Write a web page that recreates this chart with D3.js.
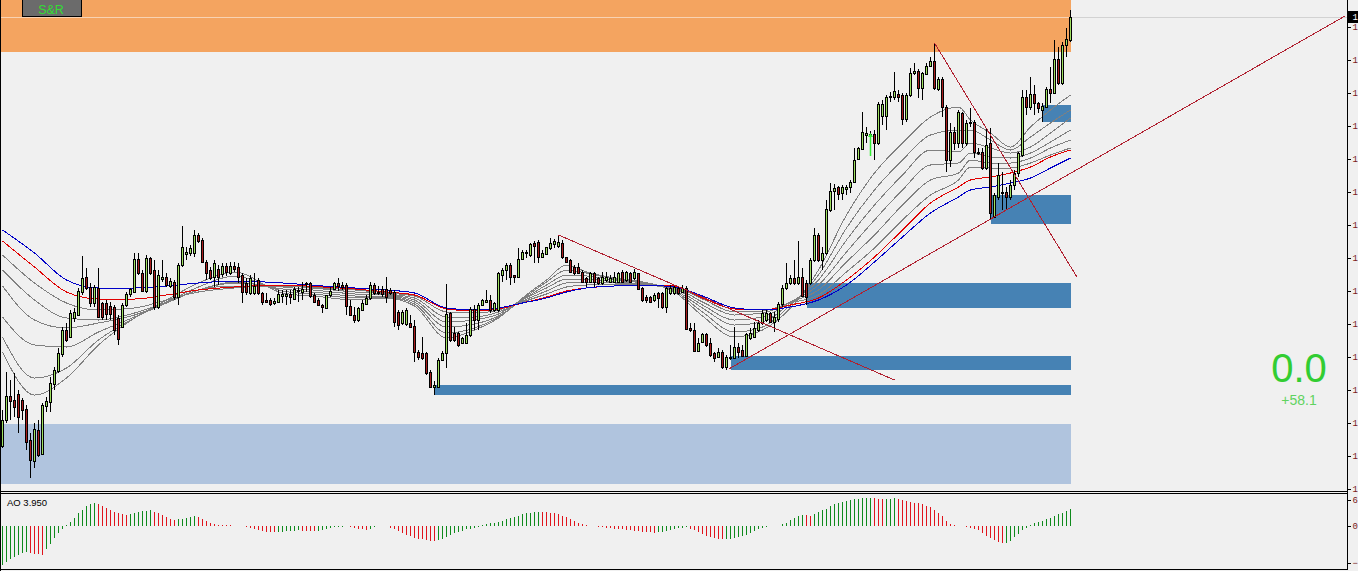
<!DOCTYPE html>
<html>
<head>
<meta charset="utf-8">
<script src="https://cdn.jsdelivr.net/npm/d3@7"></script>
<style>
  body { margin: 0; background: #f0f0f0; overflow: hidden; }
  svg { display: block; }
</style>
</head>
<body>
<div id="chart"></div>
<script>
// ---- candles (one per bar, left to right) ----
const open = [
1054,1080,1104,1100,1106,1100,1091,1060,1039,1070,
1046,1094,1098,1116,1129,1146,1170,1163,1182,1185,
1208,1223,1213,1197,1212,1197,1197,1194,1193,1182,
1173,1195,1206,1208,1241,1227,1209,1242,1230,1193,
1221,1223,1214,1218,1203,1235,1246,1247,1247,1265,
1260,1238,1230,1223,1231,1226,1234,1227,1234,1233,
1225,1217,1207,1207,1220,1207,1200,1200,1197,1198,
1204,1204,1206,1201,1210,1208,1216,1217,1205,1200,
1195,1192,1205,1211,1217,1215,1215,1194,1185,1180,
1190,1196,1202,1215,1208,1211,1211,1210,1208,1188,
1177,1176,1177,1174,1148,1147,1147,1128,1113,1113,
1140,1147,1187,1167,1167,1157,1157,1165,1191,1180,
1195,1198,1200,1190,1190,1225,1230,1235,1225,1223,
1241,1247,1245,1257,1258,1243,1246,1252,1256,1254,
1257,1243,1240,1233,1233,1228,1222,1218,1227,1222,
1217,1220,1218,1218,1218,1228,1220,1227,1222,1227,
1212,1203,1203,1200,1207,1207,1193,1207,1207,1212,
1208,1212,1172,1170,1149,1158,1166,1157,1147,1143,
1148,1133,1142,1142,1153,1150,1144,1162,1163,1170,
1177,1180,1187,1178,1181,1196,1212,1217,1222,1217,
1223,1217,1217,1240,1265,1240,1247,1290,1309,1313,
1307,1311,1313,1318,1341,1351,1365,1364,1366,1357,
1384,1384,1403,1403,1406,1405,1381,1405,1427,1429,
1412,1426,1434,1439,1411,1421,1393,1340,1368,1357,
1387,1357,1378,1378,1348,1348,1332,1357,1283,1303,
1307,1308,1303,1315,1327,1345,1403,1393,1406,1397,
1390,1393,1411,1407,1441,1417,1455,1460
];
const high = [
1090,1128,1120,1127,1110,1102,1095,1067,1077,1080,
1097,1103,1123,1133,1152,1173,1177,1190,1192,1212,
1244,1232,1217,1215,1232,1198,1200,1198,1195,1185,
1197,1208,1212,1247,1247,1230,1245,1243,1240,1230,
1240,1227,1222,1220,1237,1274,1253,1255,1270,1267,
1262,1240,1233,1240,1235,1237,1237,1238,1238,1237,
1227,1222,1225,1227,1222,1208,1207,1202,1202,1210,
1210,1210,1210,1213,1213,1218,1218,1218,1207,1202,
1196,1205,1213,1218,1222,1218,1217,1200,1193,1193,
1200,1205,1218,1217,1214,1214,1223,1212,1210,1190,
1190,1192,1185,1180,1150,1163,1148,1130,1119,1142,
1149,1216,1188,1173,1168,1163,1177,1193,1195,1197,
1201,1210,1205,1198,1228,1232,1237,1237,1225,1252,
1250,1250,1257,1259,1260,1250,1253,1262,1261,1265,
1260,1243,1241,1235,1237,1230,1223,1228,1228,1223,
1228,1228,1225,1228,1228,1230,1229,1228,1231,1227,
1213,1205,1204,1207,1208,1208,1213,1215,1215,1214,
1215,1214,1177,1177,1162,1167,1167,1162,1148,1152,
1150,1145,1155,1173,1157,1155,1167,1172,1178,1180,
1190,1190,1188,1188,1198,1215,1237,1225,1240,1259,
1232,1220,1242,1272,1267,1253,1300,1317,1316,1314,
1315,1315,1320,1352,1353,1388,1373,1369,1370,1398,
1400,1405,1408,1428,1410,1407,1407,1432,1437,1431,
1428,1437,1443,1457,1423,1423,1395,1377,1373,1390,
1388,1380,1392,1380,1352,1352,1372,1372,1307,1337,
1328,1313,1320,1330,1348,1410,1410,1423,1415,1398,
1397,1413,1433,1460,1453,1458,1472,1490
];
const low = [
1052,1077,1080,1083,1067,1080,1050,1022,1032,1043,
1045,1088,1088,1110,1127,1143,1158,1162,1178,1185,
1205,1210,1193,1193,1182,1180,1180,1180,1165,1155,
1172,1193,1203,1207,1225,1208,1207,1225,1190,1191,
1218,1213,1212,1200,1195,1233,1240,1244,1243,1257,
1237,1220,1220,1213,1215,1223,1224,1225,1228,1217,
1197,1205,1205,1205,1205,1195,1197,1194,1195,1197,
1197,1195,1196,1200,1198,1200,1208,1202,1197,1195,
1187,1191,1203,1210,1209,1210,1185,1184,1177,1178,
1189,1195,1200,1205,1205,1203,1197,1205,1173,1170,
1175,1174,1172,1138,1140,1140,1125,1112,1105,1112,
1139,1132,1158,1158,1153,1156,1156,1163,1170,1170,
1194,1197,1187,1188,1188,1218,1220,1215,1217,1223,
1240,1242,1243,1237,1237,1242,1245,1250,1252,1252,
1241,1237,1227,1225,1227,1217,1213,1217,1213,1215,
1215,1218,1217,1217,1217,1217,1218,1217,1220,1210,
1198,1197,1197,1198,1192,1191,1187,1205,1205,1205,
1207,1170,1168,1148,1148,1157,1153,1143,1138,1142,
1131,1130,1140,1142,1142,1143,1143,1160,1162,1168,
1175,1178,1177,1168,1178,1193,1210,1215,1215,1215,
1203,1195,1215,1238,1238,1230,1245,1288,1290,1300,
1300,1305,1307,1317,1340,1350,1357,1360,1340,1355,
1375,1370,1398,1400,1398,1375,1378,1403,1425,1402,
1400,1425,1433,1410,1409,1383,1328,1333,1350,1352,
1352,1354,1373,1342,1345,1330,1330,1280,1282,1300,
1290,1290,1300,1310,1323,1343,1385,1390,1385,1387,
1378,1392,1397,1407,1415,1415,1443,1458
];
const close = [
1080,1104,1099,1093,1083,1090,1058,1040,1071,1045,
1095,1099,1117,1130,1147,1170,1160,1187,1188,1209,
1222,1212,1197,1213,1183,1183,1186,1186,1170,1161,
1195,1206,1211,1241,1227,1209,1242,1227,1193,1225,
1223,1215,1219,1203,1235,1253,1248,1252,1265,1259,
1238,1227,1222,1237,1223,1234,1228,1234,1231,1223,
1208,1208,1222,1214,1207,1198,1198,1196,1199,1206,
1206,1206,1203,1211,1209,1211,1217,1204,1198,1195,
1193,1205,1209,1217,1214,1213,1194,1185,1180,1192,
1197,1202,1215,1207,1207,1206,1203,1207,1178,1175,
1188,1190,1173,1148,1143,1142,1127,1113,1115,1140,
1147,1186,1160,1160,1155,1162,1165,1191,1180,1195,
1200,1200,1190,1197,1227,1230,1235,1223,1223,1241,
1248,1248,1256,1254,1243,1247,1253,1257,1259,1258,
1243,1238,1228,1227,1227,1218,1218,1227,1218,1217,
1223,1223,1222,1223,1227,1218,1228,1218,1228,1211,
1200,1200,1198,1205,1202,1193,1212,1212,1213,1207,
1212,1171,1170,1149,1157,1166,1155,1145,1142,1148,
1133,1143,1143,1153,1148,1144,1166,1167,1172,1177,
1187,1187,1178,1183,1196,1212,1217,1222,1217,1223,
1204,1203,1240,1265,1240,1247,1291,1309,1312,1306,
1313,1313,1318,1340,1352,1368,1367,1366,1357,1396,
1396,1403,1404,1409,1403,1381,1405,1427,1429,1412,
1427,1434,1439,1412,1421,1393,1340,1368,1357,1388,
1357,1377,1377,1348,1347,1332,1355,1287,1305,1325,
1308,1303,1315,1327,1347,1403,1393,1406,1397,1392,
1394,1411,1407,1441,1417,1455,1461,1483
];

// ---- awesome oscillator, one value per bar ----
const ao = [
-9.0,-8.3,-7.6,-7.1,-6.7,-6.3,-6.1,-6.2,-6.4,-6.5,
-6.6,-5.3,-4.1,-2.8,-1.7,-0.8,0.3,1.0,1.9,2.9,
3.8,4.5,5.0,5.2,5.0,4.6,4.1,3.6,3.2,2.9,
2.7,2.6,2.8,3.0,3.2,3.4,3.5,3.6,3.3,2.9,
2.5,2.1,1.7,1.4,1.5,1.6,1.8,2.0,2.3,2.0,
1.6,1.1,0.7,0.4,0.3,0.25,0.2,0.15,0.1,0.05,
-0.1,-0.3,-0.5,-0.7,-0.9,-1.1,-1.3,-1.4,-1.5,-1.45,
-1.35,-1.25,-1.15,-1.05,-1.0,-1.05,-1.1,-1.15,-1.2,-1.1,
-0.9,-0.7,-0.5,-0.35,-0.2,-0.15,-0.1,-0.3,-0.5,-0.7,
-0.8,-0.9,-0.6,-0.3,-0.1,-0.05,-0.1,-0.4,-0.8,-1.2,
-1.6,-2.0,-2.4,-2.7,-2.9,-3.0,-3.2,-3.35,-3.4,-3.2,
-2.9,-2.5,-2.1,-1.7,-1.4,-1.1,-0.8,-0.6,-0.4,-0.2,
0.2,0.4,0.6,0.8,1.0,1.2,1.5,1.8,2.1,2.4,
2.7,2.9,3.1,3.2,3.3,3.25,3.2,3.1,2.9,2.7,
2.4,2.0,1.6,1.2,0.8,0.5,0.3,0.1,-0.05,-0.2,
-0.3,-0.4,-0.5,-0.6,-0.7,-0.8,-0.9,-1.0,-1.1,-1.2,
-1.3,-1.4,-1.5,-1.6,-1.5,-1.3,-1.1,-0.9,-0.7,-0.5,
-0.4,-0.3,-0.6,-1.0,-1.4,-1.8,-2.2,-2.5,-2.7,-2.9,
-3.0,-2.95,-2.9,-2.8,-2.6,-2.3,-2.0,-1.6,-1.2,-0.8,
-0.4,-0.15,-0.05,0.05,0.1,0.4,0.8,1.3,1.8,2.3,
2.6,2.5,2.4,2.8,3.2,3.6,4.0,4.5,5.0,5.4,
5.6,5.8,6.0,6.2,6.3,6.4,6.45,6.5,6.4,6.3,
6.2,6.25,6.3,6.35,6.2,6.0,5.8,5.6,5.4,5.2,
5.0,4.7,4.3,3.7,3.0,2.2,1.2,0.4,0.2,0.1,
-0.1,-0.2,-0.4,-0.6,-1.0,-1.6,-2.2,-2.8,-3.3,-3.7,
-4.0,-3.9,-3.4,-2.6,-1.8,-1.0,-0.4,0.2,0.6,0.9,
1.2,1.6,1.9,2.3,2.7,3.1,3.5,3.95
];

// ---- moving averages, read at these bars ----
const maIdx = [0,8,16,24,33,41,49,58,70,80,88,96,103,111,118,124,130,136,141,146,
  153,160,168,175,183,190,197,204,211,218,225,232,239,242,247,252,257,262,267];
const maBlue = [1270,1247,1220,1212,1212,1214,1217,1219,1217,1214,1212,1210,1207,1192,1190,1192,
  1197,1202,1208,1212,1214,1215,1213,1204,1192,1190,1193,1200,1215,1238,1263,1287,1303,1310,1313,1317,1322,1332,1342];
const maRed = [1259,1233,1208,1201,1201,1205,1210,1213,1215,1213,1211,1208,1205,1191,1189,1191,
  1197,1203,1209,1212,1214,1215,1214,1202,1191,1190,1195,1202,1220,1243,1270,1297,1313,1320,1323,1327,1333,1343,1350];
const maGray1 = [1245,1217,1197,1190,1192,1200,1208,1212,1215,1212,1210,1207,1204,1188,1187,1190,
  1198,1206,1213,1215,1216,1215,1213,1201,1188,1189,1197,1205,1228,1252,1280,1305,1320,1333,1332,1332,1337,1345,1352];
const maGray2 = [1230,1200,1182,1180,1187,1198,1210,1214,1214,1211,1208,1206,1202,1183,1183,1188,
  1199,1209,1217,1218,1217,1215,1212,1198,1185,1187,1198,1210,1238,1265,1295,1320,1327,1340,1337,1337,1342,1352,1360];
const maGray3 = [1214,1180,1172,1177,1185,1197,1210,1217,1213,1209,1206,1205,1200,1178,1180,1186,
  1200,1212,1221,1221,1218,1216,1211,1195,1180,1183,1198,1215,1248,1280,1310,1335,1337,1347,1343,1342,1347,1358,1370];
const maGray4 = [1183,1155,1153,1168,1183,1197,1210,1218,1211,1207,1204,1204,1198,1173,1176,1184,
  1200,1215,1225,1224,1220,1217,1210,1192,1175,1178,1197,1220,1260,1295,1325,1350,1348,1357,1352,1347,1353,1367,1382];
const maGray5 = [1163,1122,1132,1160,1182,1198,1213,1224,1209,1205,1202,1203,1196,1167,1172,1183,
  1201,1218,1230,1227,1221,1218,1209,1188,1168,1173,1195,1225,1272,1310,1340,1365,1370,1370,1360,1350,1363,1377,1390];
const maGray6 = [1148,1105,1122,1155,1182,1200,1217,1228,1207,1203,1200,1202,1194,1162,1170,1182,
  1202,1220,1235,1228,1222,1218,1208,1184,1163,1170,1192,1230,1285,1327,1357,1383,1393,1380,1367,1353,1373,1390,1405];

// ---- supply / demand zones ----
const zoneKind   = ["supply","demand","demand","demand","demand","demand","weak"];
const zoneStart  = [-1, 260, 247, 201, 182, 108, -1];
const zoneEnd    = [267, 267, 267, 267, 267, 267, 267];
const zoneTop    = [1500, 1395, 1305, 1217, 1144, 1115, 1076];
const zoneBottom = [1448, 1378, 1276, 1192, 1130, 1105, 1016];

// ---- trend lines ----
const tlStartIdx = [139, 233, 181.6];
const tlStartVal = [1265, 1457, 1131];
const tlEndIdx   = [223, 268.6, 335.6];
const tlEndVal   = [1120, 1223, 1484];

// buy arrow
const arrowIdx = [217];
const arrowTop = [1367];
const arrowBottom = [1344];

// axis ticks
const priceTicks = [1474,1441,1408,1375,1342,1309,1276,1243,1210,1177,1144,1111,1078,1045,1012];
const aoTicks = [6.5, 0, -9];

const W = 1358, H = 571;
const axisX = 1347.5;
const mainBottom = 491;

const x = d3.scaleLinear().domain([0, 267]).range([2.5, 1070.5]);
const y = d3.scaleLinear().domain([1012, 1474]).range([488, 26]);
const yAo = d3.scaleLinear().domain([-9, 6.5]).range([565, 497.8]);

const svg = d3.select("#chart").append("svg")
  .attr("width", W)
  .attr("height", H)
  .style("font-family", "'Liberation Sans', Arial, sans-serif");

svg.append("rect").attr("width", W).attr("height", H).attr("fill", "#f0f0f0");

svg.append("clipPath").attr("id", "clipMain")
  .append("rect").attr("x", 1).attr("y", 0).attr("width", axisX - 1).attr("height", mainBottom);
svg.append("clipPath").attr("id", "clipAo")
  .append("rect").attr("x", 1).attr("y", 494).attr("width", axisX - 1).attr("height", 75);

const main = svg.append("g").attr("clip-path", "url(#clipMain)");

// zones
const zoneColor = { supply: "#f4a460", demand: "#4682b4", weak: "#b0c4de" };
main.append("g").selectAll("rect")
  .data(zoneKind.map((k, i) => ({ k, s: zoneStart[i], e: zoneEnd[i], t: zoneTop[i], b: zoneBottom[i] })))
  .enter().append("rect")
  .attr("x", d => d.s < 0 ? 0 : x(d.s))
  .attr("width", d => x(d.e) - (d.s < 0 ? 0 : x(d.s)))
  .attr("y", d => y(d.t))
  .attr("height", d => y(d.b) - y(d.t))
  .attr("fill", d => zoneColor[d.k])
  .attr("shape-rendering", "crispEdges");

// bid line
const lastY = Math.round(y(close[close.length - 1])) + 0.5;
main.append("line").attr("x1", 0).attr("x2", x(267)).attr("y1", lastY).attr("y2", lastY)
  .attr("stroke", "#f8d2b2").attr("shape-rendering", "crispEdges");
main.append("line").attr("x1", x(267)).attr("x2", axisX).attr("y1", lastY).attr("y2", lastY)
  .attr("stroke", "#d2d2d2").attr("shape-rendering", "crispEdges");

// moving averages
const maSet = [
  { v: maGray1, c: "#808080" }, { v: maGray2, c: "#808080" }, { v: maGray3, c: "#808080" },
  { v: maGray4, c: "#808080" }, { v: maGray5, c: "#808080" }, { v: maGray6, c: "#808080" },
  { v: maRed, c: "#e00000" }, { v: maBlue, c: "#0000c8" }
];
const maLine = d3.line()
  .x((d, k) => x(maIdx[k]))
  .y(d => y(d))
  .curve(d3.curveMonotoneX);
main.append("g").attr("shape-rendering", "crispEdges").selectAll("path")
  .data(maSet)
  .enter().append("path")
  .attr("d", d => maLine(d.v))
  .attr("fill", "none")
  .attr("stroke", d => d.c)
  .attr("stroke-width", 1);

// candles
const candles = open.map((o, i) => ({ i, o, h: high[i], l: low[i], c: close[i] }));
const cg = main.append("g").attr("shape-rendering", "crispEdges");
cg.selectAll("line")
  .data(candles)
  .enter().append("line")
  .attr("x1", d => x(d.i)).attr("x2", d => x(d.i))
  .attr("y1", d => y(d.h)).attr("y2", d => y(d.l))
  .attr("stroke", "#000");
cg.selectAll("rect")
  .data(candles)
  .enter().append("rect")
  .attr("x", d => x(d.i) - 1)
  .attr("width", 2)
  .attr("y", d => y(Math.max(d.o, d.c)) + 0.5)
  .attr("height", d => Math.max(0.01, Math.abs(y(d.o) - y(d.c))))
  .attr("fill", d => d.c >= d.o ? "#9ee060" : "#a81c1c")
  .attr("stroke", "#000")
  .attr("stroke-width", 1);

// trend lines
main.append("g").attr("shape-rendering", "crispEdges").selectAll("line")
  .data(tlStartIdx.map((s, i) => ({ s, sv: tlStartVal[i], e: tlEndIdx[i], ev: tlEndVal[i] })))
  .enter().append("line")
  .attr("x1", d => x(d.s)).attr("y1", d => y(d.sv))
  .attr("x2", d => x(d.e)).attr("y2", d => y(d.ev))
  .attr("stroke", "#b02030")
  .attr("stroke-width", 1);

// arrow
arrowIdx.forEach((a, i) => {
  const ax = x(a), yt = y(arrowTop[i]), yb = y(arrowBottom[i]);
  main.append("line").attr("x1", ax).attr("x2", ax).attr("y1", yt + 2).attr("y2", yb)
    .attr("stroke", "#33ee33").attr("stroke-width", 1.5);
  main.append("path")
    .attr("d", `M${ax},${yt} L${ax - 2.5},${yt + 4} L${ax + 2.5},${yt + 4} Z`)
    .attr("fill", "#33ee33");
});

// S&R button
svg.append("rect").attr("x", 22.5).attr("y", -1.5).attr("width", 59).attr("height", 18)
  .attr("fill", "#6b6b6b").attr("stroke", "#000").attr("shape-rendering", "crispEdges");
svg.append("text").attr("x", 51).attr("y", 13.5).attr("text-anchor", "middle")
  .attr("font-size", "12.5px").attr("fill", "#33dd33").text("S&R");

// indicator readout
svg.append("text").attr("x", 1299).attr("y", 382).attr("text-anchor", "middle")
  .attr("font-size", "40px").attr("fill", "#32cd32").text("0.0");
svg.append("text").attr("x", 1299).attr("y", 405).attr("text-anchor", "middle")
  .attr("font-size", "14px").attr("fill", "#5fd35f").text("+58.1");

// AO histogram
const aoG = svg.append("g").attr("clip-path", "url(#clipAo)").attr("shape-rendering", "crispEdges");
aoG.selectAll("line")
  .data(ao.map((v, i) => ({ i, v, up: i === 0 || v > ao[i - 1] })))
  .enter().append("line")
  .attr("x1", d => x(d.i)).attr("x2", d => x(d.i))
  .attr("y1", yAo(0)).attr("y2", d => yAo(d.v))
  .attr("stroke", d => d.up ? "#0f8a1c" : "#e0141c");

svg.append("text").attr("x", 7).attr("y", 506)
  .attr("font-size", "9.5px").attr("fill", "#000")
  .text("AO " + ao[ao.length - 1].toFixed(3));

// frames
const frame = svg.append("g").attr("stroke", "#000").attr("shape-rendering", "crispEdges");
frame.append("line").attr("x1", 0.5).attr("x2", 0.5).attr("y1", 0).attr("y2", H);
frame.append("line").attr("x1", 0).attr("x2", axisX).attr("y1", 491.5).attr("y2", 491.5);
frame.append("line").attr("x1", 0).attr("x2", axisX).attr("y1", 493.5).attr("y2", 493.5);
frame.append("line").attr("x1", 0).attr("x2", axisX).attr("y1", 569.5).attr("y2", 569.5);
frame.append("line").attr("x1", axisX).attr("x2", axisX).attr("y1", 0).attr("y2", 570);

// price axis (labels run off the window edge, as in the source chart)
const pAxis = svg.append("g")
  .attr("transform", `translate(${axisX},0.5)`)
  .call(d3.axisRight(y).tickValues(priceTicks).tickSize(3).tickSizeOuter(0).tickPadding(2)
    .tickFormat(d3.format(".1f")));
pAxis.select(".domain").remove();
pAxis.selectAll("line").attr("stroke", "#000").attr("shape-rendering", "crispEdges");
pAxis.selectAll("text").attr("fill", "#7a1a1a")
  .style("font-family", "'Liberation Mono', monospace").style("font-size", "9px");

// current price label
svg.append("rect").attr("x", axisX).attr("y", lastY - 6.5).attr("width", W - axisX).attr("height", 12)
  .attr("fill", "#000");
svg.append("text").attr("x", axisX + 5).attr("y", lastY).attr("dy", "0.32em")
  .attr("fill", "#fff").style("font-family", "'Liberation Mono', monospace").style("font-size", "9px")
  .text(d3.format(".1f")(close[close.length - 1]));

// AO axis
const aoAxis = svg.append("g");
aoTicks.forEach(t => {
  const ty = Math.round(Math.min(563, Math.max(500, yAo(t)))) + 0.5;
  aoAxis.append("line").attr("x1", axisX).attr("x2", axisX + 3).attr("y1", ty).attr("y2", ty)
    .attr("stroke", "#000").attr("shape-rendering", "crispEdges");
  aoAxis.append("text").attr("x", axisX + 5).attr("y", ty).attr("dy", "0.32em")
    .attr("fill", "#7a1a1a").style("font-family", "'Liberation Mono', monospace").style("font-size", "9px")
    .text(d3.format(".2f")(t));
});
</script>
</body>
</html>
